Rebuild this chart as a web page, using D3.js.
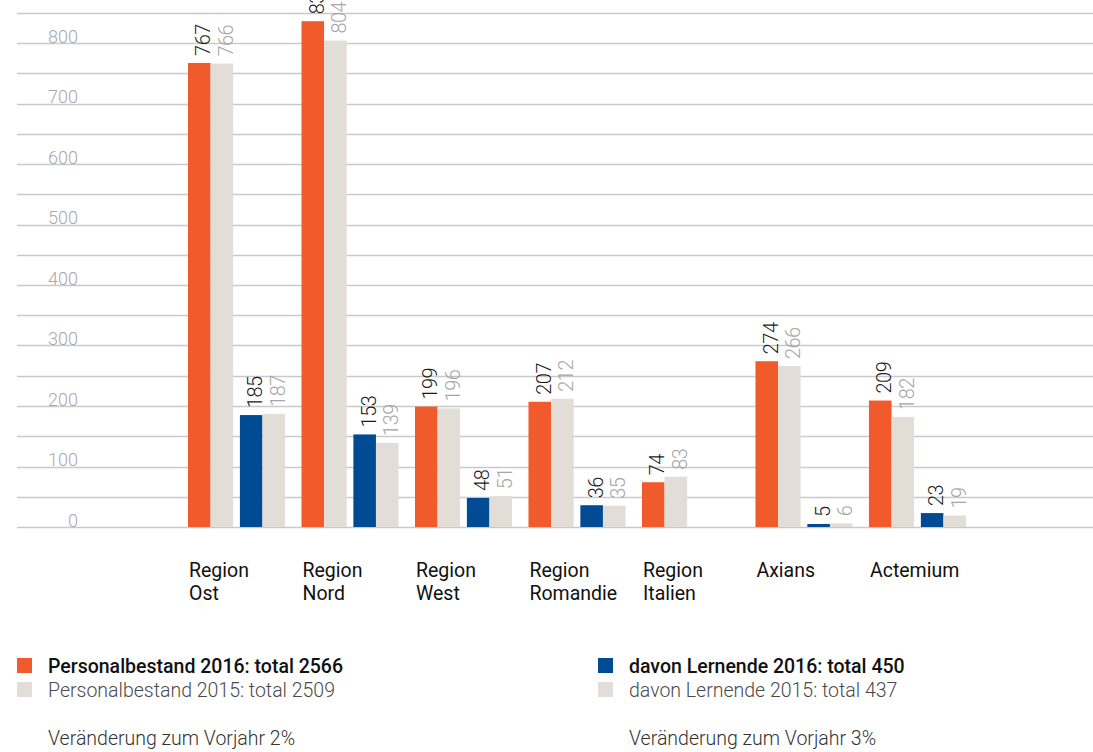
<!DOCTYPE html>
<html>
<head>
<meta charset="utf-8">
<script src="https://cdn.jsdelivr.net/npm/d3@7"></script>
<style>
  body { margin: 0; background: #fff; }
  svg { display: block; }
  .axis-label { font-family: Roboto, sans-serif; font-weight: 300; font-size: 18px; fill: #a8a8a8; }
  .val { font-family: Roboto, sans-serif; font-weight: 300; font-size: 20px; letter-spacing: -0.5px; }
  .cat { font-family: Roboto, sans-serif; font-size: 19.5px; fill: #111; }
  .leg { font-family: Roboto, sans-serif; font-size: 19.5px; }
</style>
</head>
<body>
<div id="chart"></div>
<script>
// categories, split into label lines
var categories = ["Region Ost", "Region Nord", "Region West", "Region Romandie", "Region Italien", "Axians", "Actemium"]
var catLines = [["Region", "Ost"], ["Region", "Nord"], ["Region", "West"], ["Region", "Romandie"], ["Region", "Italien"], ["Axians"], ["Actemium"]]

// Personalbestand
var staff2016 = [767, 836, 199, 207, 74, 274, 209]
var staff2015 = [766, 804, 196, 212, 83, 266, 182]
// davon Lernende (Italien hat keine)
var learn2016 = [185, 153, 48, 36, null, 5, 23]
var learn2015 = [187, 139, 51, 35, null, 6, 19]

var yTicks = [0, 100, 200, 300, 400, 500, 600, 700, 800]
var gridTicks = d3.range(0, 851, 50)

var legendLeft = ["Personalbestand 2016: total 2566", "Personalbestand 2015: total 2509", "Veränderung zum Vorjahr 2%"]
var legendRight = ["davon Lernende 2016: total 450", "davon Lernende 2015: total 437", "Veränderung zum Vorjahr 3%"]

var W = 1093, H = 752
var orange = "#f15a2b", blue = "#004b93", sand = "#e3ddd8"

var svg = d3.select("#chart").append("svg")
	.attr("width", W)
	.attr("height", H)

var y = d3.scaleLinear().domain([0, 850]).range([527, 12.75])

var x = d3.scaleBand()
	.domain(categories)
	.range([188, 966])
	.paddingInner(0.145)
	.paddingOuter(0)

// two pairs inside one group: Personalbestand / Lernende
var pair = d3.scaleBand()
	.domain(["staff", "learn"])
	.range([0, x.bandwidth()])
	.paddingInner(0.13)

var yr = d3.scaleBand()
	.domain(["2016", "2015"])
	.range([0, pair.bandwidth()])

// gridlines
svg.append("g").selectAll("line")
	.data(gridTicks)
	.enter().append("line")
	.attr("x1", 17)
	.attr("x2", W)
	.attr("y1", function(d) { return Math.round(y(d)) + 0.5 })
	.attr("y2", function(d) { return Math.round(y(d)) + 0.5 })
	.style("stroke", "#c9c9c9")
	.style("stroke-width", 1.3)

svg.append("g").selectAll("text")
	.data(yTicks)
	.enter().append("text")
	.attr("class", "axis-label")
	.attr("x", 78)
	.attr("y", function(d) { return y(d) - 0.5 })
	.attr("text-anchor", "end")
	.text(function(d) { return d })

// flatten bars
var bars = []
categories.forEach(function(c, i) {
	bars.push({cat: c, grp: "staff", yr: "2016", v: staff2016[i], fill: orange, lab: "#1a1a1a"})
	bars.push({cat: c, grp: "staff", yr: "2015", v: staff2015[i], fill: sand, lab: "#a6a6a6"})
	if (learn2016[i] != null) {
		bars.push({cat: c, grp: "learn", yr: "2016", v: learn2016[i], fill: blue, lab: "#1a1a1a"})
		bars.push({cat: c, grp: "learn", yr: "2015", v: learn2015[i], fill: sand, lab: "#a6a6a6"})
	}
})

function bx(d) { return x(d.cat) + pair(d.grp) + yr(d.yr) }

svg.append("g").selectAll("rect")
	.data(bars)
	.enter().append("rect")
	.attr("x", bx)
	.attr("width", yr.bandwidth())
	.attr("y", function(d) { return y(d.v) })
	.attr("height", function(d) { return y(0) - y(d.v) })
	.style("fill", function(d) { return d.fill })

// rotated value labels above bars (the top one runs off the edge like in the original)
svg.append("g").selectAll("text")
	.data(bars)
	.enter().append("text")
	.attr("class", "val")
	.attr("transform", function(d) {
		return "translate(" + (bx(d) + yr.bandwidth() / 2 + 4) + "," + (y(d.v) - 7) + ") rotate(-90)"
	})
	.attr("dy", "0.35em")
	.style("fill", function(d) { return d.lab })
	.text(function(d) { return d.v })

// category labels
var cats = svg.append("g").selectAll("text")
	.data(categories)
	.enter().append("text")
	.attr("class", "cat")
	.attr("x", function(d) { return x(d) + 1 })
	.attr("y", 577)

cats.selectAll("tspan")
	.data(function(d, i) { return catLines[i] })
	.enter().append("tspan")
	.attr("x", function() { return this.parentNode.getAttribute("x") })
	.attr("dy", function(d, i) { return i == 0 ? 0 : 23 })
	.text(function(d) { return d })

// legend
function legend(x0, texts, col) {
	var g = svg.append("g")
	g.append("rect").attr("x", x0).attr("y", 658).attr("width", 15).attr("height", 15).style("fill", col)
	g.append("rect").attr("x", x0).attr("y", 682).attr("width", 15).attr("height", 15).style("fill", sand)
	g.append("text").attr("class", "leg").attr("x", x0 + 31).attr("y", 673)
		.style("fill", "#111").style("font-weight", 500).text(texts[0])
	g.append("text").attr("class", "leg").attr("x", x0 + 31).attr("y", 697)
		.style("fill", "#4a4a4a").style("font-weight", 300).text(texts[1])
	g.append("text").attr("class", "leg").attr("x", x0 + 31).attr("y", 745)
		.style("fill", "#333").style("font-weight", 300).text(texts[2])
}
legend(17, legendLeft, orange)
legend(598, legendRight, blue)
</script>
</body>
</html>
